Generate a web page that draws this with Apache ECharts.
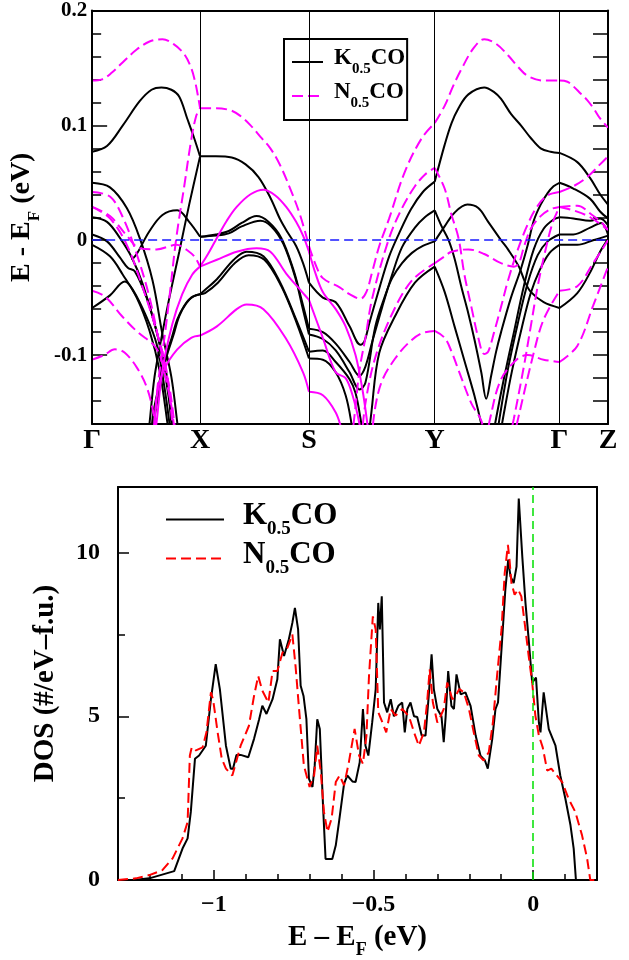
<!DOCTYPE html>
<html><head><meta charset="utf-8">
<script src="https://cdn.jsdelivr.net/npm/echarts@6/dist/echarts.min.js"></script>
<style>html,body{margin:0;padding:0;background:#fff}#c{width:629px;height:960px}</style>
</head><body><div id="c"></div>
<script>
// ---- high-symmetry path (band structure) ----
const symPos = [0, 109, 219, 346, 472, 521];
const symLabels = ['Γ', 'X', 'S', 'Y', 'Γ', 'Z'];
const bandTicks = [-0.1, 0, 0.1, 0.2];

// K0.5CO bands (black, solid)  [k, E-EF]
const bandsK = [
 [[0,0.077],[15,0.082],[31,0.100],[48,0.121],[60,0.131],[70,0.133],[80,0.131],[88,0.125],[96,0.106],[103,0.089],[109,0.073]],
 [[0,0.050],[18,0.046],[35,0.028],[48,0.002],[61,-0.035],[71,-0.082],[80,-0.119],[86,-0.159],[88,-0.175]],
 [[0,0.020],[15,0.016],[28,0.002],[40,-0.015],[51,-0.038],[65,-0.079],[73,-0.113],[81,-0.159],[83,-0.175]],
 [[0,0.005],[15,-0.001],[28,-0.015],[36,-0.024],[43,-0.027],[55,-0.050],[65,-0.079],[75,-0.116],[80,-0.159],[82,-0.175]],
 [[0,-0.004],[18,-0.014],[31,-0.030],[45,-0.050],[58,-0.079],[68,-0.113],[76,-0.159],[78,-0.175]],
 [[0,-0.059],[18,-0.048],[33,-0.036],[41,-0.043],[55,-0.067],[65,-0.090],[73,-0.128],[78,-0.159],[80,-0.175]],
 [[40,-0.017],[45,-0.012],[58,0.008],[71,0.022],[86,0.026],[98,0.016],[109,0.003]],
 [[56,-0.175],[58,-0.159],[63,-0.119],[70,-0.085],[78,-0.050],[88,-0.010],[98,0.031],[109,0.073]],
 [[60,-0.175],[61,-0.155],[66,-0.132],[73,-0.104],[80,-0.086],[86,-0.069],[93,-0.057],[100,-0.050],[109,-0.047]],
 [[62,-0.175],[63,-0.155],[68,-0.130],[75,-0.102],[82,-0.083],[88,-0.066],[95,-0.055],[102,-0.049],[109,-0.047]],
 [[109,0.073],[125,0.073],[141,0.072],[155,0.066],[168,0.055],[180,0.037],[190,0.018],[198,0.006],[206,-0.005],[213,-0.020],[219,-0.037]],
 [[109,0.003],[125,0.005],[138,0.008],[151,0.015],[166,0.021],[178,0.016],[191,0.002],[203,-0.025],[211,-0.050],[219,-0.077]],
 [[109,0.003],[125,0.004],[138,0.006],[151,0.012],[170,0.017],[181,0.012],[193,-0.003],[205,-0.032],[212,-0.057],[219,-0.082]],
 [[109,-0.047],[113,-0.044],[126,-0.034],[143,-0.017],[156,-0.010],[173,-0.014],[190,-0.037],[206,-0.069],[219,-0.097]],
 [[109,-0.047],[114,-0.046],[127,-0.037],[144,-0.020],[158,-0.013],[174,-0.017],[191,-0.040],[207,-0.073],[219,-0.103]],
 [[219,-0.037],[233,-0.050],[246,-0.054],[260,-0.075],[271,-0.091],[275,-0.088],[280,-0.072],[290,-0.042],[300,-0.014],[310,0.006],[322,0.027],[334,0.042],[346,0.051]],
 [[219,-0.077],[233,-0.080],[246,-0.090],[260,-0.106],[270,-0.118],[276,-0.110],[283,-0.088],[293,-0.058],[303,-0.030],[313,-0.006],[326,0.011],[336,0.020],[346,0.026]],
 [[219,-0.082],[233,-0.086],[246,-0.096],[260,-0.115],[270,-0.130],[276,-0.124],[286,-0.075],[296,-0.048],[303,-0.033],[313,-0.020],[323,-0.011],[334,-0.005],[346,-0.001]],
 [[219,-0.097],[233,-0.096],[246,-0.106],[260,-0.121],[266,-0.133],[271,-0.155],[274,-0.175]],
 [[219,-0.103],[233,-0.104],[246,-0.115],[256,-0.135],[262,-0.160],[264,-0.175]],
 [[279,-0.175],[282,-0.150],[290,-0.098],[306,-0.066],[326,-0.037],[346,-0.023]],
 [[346,0.051],[356,0.083],[363,0.102],[370,0.115],[380,0.127],[396,0.133],[406,0.129],[413,0.123],[423,0.110],[433,0.100],[443,0.089],[453,0.080],[463,0.077],[472,0.076]],
 [[346,-0.001],[356,0.012],[366,0.024],[379,0.031],[390,0.028],[400,0.016],[413,0.000],[420,-0.008],[431,-0.023],[437,-0.036],[443,-0.045],[456,-0.054],[472,-0.059]],
 [[346,0.026],[353,0.012],[360,0.000],[366,-0.016],[373,-0.041],[380,-0.064],[386,-0.086],[393,-0.115],[398,-0.138],[403,-0.118],[408,-0.097],[413,-0.080],[423,-0.050],[433,-0.025],[440,-0.004],[446,0.017],[453,0.031],[460,0.041],[466,0.047],[472,0.050]],
 [[346,-0.023],[356,-0.045],[366,-0.075],[376,-0.105],[386,-0.135],[393,-0.160],[396,-0.175]],
 [[404,-0.175],[408,-0.155],[416,-0.120],[426,-0.080],[436,-0.040],[446,-0.008],[456,0.010],[466,0.018],[472,0.020]],
 [[408,-0.175],[412,-0.152],[420,-0.112],[430,-0.072],[440,-0.037],[450,-0.013],[460,-0.001],[472,0.005]],
 [[411,-0.175],[416,-0.150],[424,-0.114],[434,-0.076],[443,-0.046],[452,-0.026],[462,-0.011],[472,-0.004]],
 [[472,0.076],[490,0.068],[503,0.054],[513,0.040],[521,0.031]],
 [[472,0.050],[486,0.045],[503,0.036],[513,0.025],[521,0.019]],
 [[472,0.020],[486,0.019],[503,0.017],[513,0.019],[521,0.013]],
 [[472,0.005],[486,0.005],[503,0.011],[514,0.015],[521,0.005]],
 [[472,-0.004],[490,-0.004],[506,0.000],[521,0.004]],
 [[472,-0.059],[490,-0.046],[503,-0.028],[513,-0.010],[521,0.001]]
];

// N0.5CO bands (magenta, dashed)
const bandsN = [
 [[0,0.139],[10,0.140],[20,0.146],[31,0.155],[45,0.166],[58,0.173],[71,0.175],[82,0.171],[93,0.162],[100,0.150],[104,0.138],[107,0.125],[109,0.115]],
 [[61,-0.175],[63,-0.159],[66,-0.128],[73,-0.085],[78,-0.050],[85,0.002],[93,0.047],[100,0.087],[105,0.108],[109,0.115]],
 [[0,0.042],[18,0.038],[31,0.020],[45,-0.012],[58,-0.050],[68,-0.090],[78,-0.128],[83,-0.159],[85,-0.175]],
 [[0,0.029],[18,0.021],[35,0.004],[48,-0.007],[65,-0.008],[85,-0.004],[98,-0.010],[104,-0.015],[109,-0.023]],
 [[0,0.029],[18,0.019],[35,-0.004],[51,-0.041],[65,-0.079],[75,-0.113],[81,-0.159],[83,-0.175]],
 [[0,-0.044],[13,-0.049],[30,-0.066],[46,-0.080],[63,-0.092],[70,-0.104],[73,-0.115],[80,-0.144],[83,-0.165],[84,-0.175]],
 [[0,-0.104],[12,-0.100],[23,-0.095],[33,-0.098],[46,-0.112],[56,-0.130],[63,-0.156],[65,-0.175]],
 [[109,0.115],[125,0.115],[140,0.113],[150,0.108],[160,0.100],[170,0.090],[180,0.080],[190,0.065],[200,0.045],[210,0.022],[219,-0.005]],
 [[219,-0.005],[226,-0.022],[233,-0.033],[250,-0.041],[260,-0.047],[271,-0.051],[277,-0.045],[283,-0.027],[290,-0.005],[300,0.019],[316,0.060],[333,0.089],[346,0.102]],
 [[262,-0.175],[266,-0.145],[270,-0.113],[276,-0.085],[283,-0.050],[300,0.002],[313,0.028],[326,0.047],[336,0.057],[346,0.063]],
 [[272,-0.175],[276,-0.142],[286,-0.102],[303,-0.064],[323,-0.035],[346,-0.020]],
 [[282,-0.175],[286,-0.145],[293,-0.122],[306,-0.103],[320,-0.089],[333,-0.081],[346,-0.079]],
 [[346,0.102],[356,0.117],[365,0.135],[373,0.149],[385,0.167],[396,0.175],[408,0.171],[420,0.161],[430,0.151],[440,0.143],[456,0.139],[472,0.139]],
 [[346,0.063],[356,0.045],[363,0.022],[370,0.002],[376,-0.030],[383,-0.058],[390,-0.085],[396,-0.099],[400,-0.097],[406,-0.080],[413,-0.058],[420,-0.035],[430,-0.008],[440,0.014],[450,0.030],[460,0.039],[472,0.042]],
 [[346,-0.020],[356,-0.014],[363,-0.010],[380,-0.008],[396,-0.012],[413,-0.020],[426,-0.023],[431,-0.020],[436,-0.006],[443,0.010],[453,0.021],[463,0.027],[472,0.029]],
 [[346,-0.079],[356,-0.085],[363,-0.097],[370,-0.113],[383,-0.142],[393,-0.157],[397,-0.175]],
 [[398,-0.175],[402,-0.155],[413,-0.121],[430,-0.103],[440,-0.100],[456,-0.104],[472,-0.106]],
 [[425,-0.175],[430,-0.156],[446,-0.098],[456,-0.069],[472,-0.044]],
 [[421,-0.175],[426,-0.155],[436,-0.110],[443,-0.075],[450,-0.040],[458,-0.008],[465,0.015],[472,0.029]],
 [[472,0.139],[480,0.138],[486,0.134],[493,0.128],[500,0.122],[507,0.114],[513,0.106],[521,0.098]],
 [[472,0.042],[486,0.047],[500,0.055],[513,0.066],[521,0.073]],
 [[472,0.029],[486,0.026],[503,0.020],[521,0.009]],
 [[472,0.029],[490,0.030],[505,0.022],[515,0.015],[521,0.009]],
 [[472,-0.044],[490,-0.040],[506,-0.020],[521,0.000]],
 [[472,-0.106],[490,-0.092],[506,-0.057],[521,-0.023]]
];

// N0.5CO bands drawn solid (magenta)
const bandsNsolid = [
 [[62,-0.175],[65,-0.159],[71,-0.113],[81,-0.073],[91,-0.047],[101,-0.030],[109,-0.023]],
 [[62,-0.175],[66,-0.132],[73,-0.112],[86,-0.095],[100,-0.085],[109,-0.083]],
 [[109,-0.023],[117,-0.012],[126,0.002],[136,0.017],[146,0.029],[160,0.040],[173,0.044],[185,0.039],[196,0.029],[206,0.016],[213,0.004],[219,-0.010]],
 [[109,-0.023],[126,-0.017],[146,-0.010],[166,-0.007],[180,-0.010],[196,-0.029],[213,-0.046],[219,-0.052]],
 [[109,-0.083],[126,-0.075],[146,-0.060],[156,-0.056],[173,-0.060],[196,-0.086],[213,-0.115],[219,-0.132]],
 [[219,-0.010],[226,-0.030],[233,-0.045],[246,-0.060],[256,-0.075],[266,-0.100],[273,-0.130],[278,-0.160],[280,-0.175]],
 [[219,-0.052],[233,-0.085],[246,-0.115],[256,-0.120],[263,-0.135],[270,-0.160],[272,-0.175]],
 [[219,-0.132],[233,-0.135],[246,-0.150],[252,-0.165],[254,-0.175]]
];

// ---- DOS ----
const dosTicks = [-1, -0.5, 0];
const dosYTicks = [0, 5, 10];
const dosK = [[-1.30,0],[-1.25,0],[-1.202,0.05],[-1.124,0.27],[-1.098,0.96],[-1.082,1.27],[-1.072,2.08],[-1.059,3.70],[-1.046,3.80],[-1.025,4.10],[-1.009,5.52],[-0.994,6.59],[-0.981,5.83],[-0.962,4.10],[-0.947,3.40],[-0.940,3.40],[-0.929,3.82],[-0.916,3.82],[-0.892,3.75],[-0.874,4.31],[-0.858,4.91],[-0.848,5.32],[-0.835,5.07],[-0.816,5.52],[-0.801,6.13],[-0.793,7.35],[-0.780,6.84],[-0.765,7.35],[-0.754,7.85],[-0.746,8.31],[-0.736,7.65],[-0.728,5.93],[-0.719,5.62],[-0.710,4.91],[-0.702,3.09],[-0.691,2.84],[-0.684,3.50],[-0.676,4.91],[-0.668,4.61],[-0.658,2.28],[-0.650,0.64],[-0.629,0.64],[-0.618,1.06],[-0.608,1.77],[-0.592,2.94],[-0.582,3.19],[-0.566,3.01],[-0.556,2.99],[-0.543,3.60],[-0.533,5.22],[-0.525,4.10],[-0.516,3.80],[-0.504,4.81],[-0.493,5.83],[-0.485,8.46],[-0.480,7.65],[-0.474,8.66],[-0.467,5.42],[-0.457,5.12],[-0.446,5.52],[-0.436,5.00],[-0.422,5.32],[-0.410,5.42],[-0.402,4.51],[-0.394,5.22],[-0.384,5.42],[-0.373,5.00],[-0.363,4.98],[-0.349,4.41],[-0.337,4.41],[-0.327,5.62],[-0.318,6.89],[-0.311,5.83],[-0.300,5.22],[-0.287,5.00],[-0.280,4.21],[-0.274,4.98],[-0.266,6.38],[-0.256,5.32],[-0.248,5.22],[-0.240,6.28],[-0.227,5.67],[-0.212,5.73],[-0.196,5.32],[-0.180,4.41],[-0.165,3.80],[-0.151,3.65],[-0.142,3.40],[-0.128,4.31],[-0.118,5.22],[-0.110,5.42],[-0.097,7.35],[-0.087,8.87],[-0.078,9.78],[-0.071,9.27],[-0.061,9.07],[-0.052,9.57],[-0.045,11.65],[-0.034,9.88],[-0.024,8.46],[-0.014,7.35],[-0.003,6.03],[0.009,6.18],[0.018,4.81],[0.023,4.51],[0.033,5.73],[0.049,4.61],[0.070,4.10],[0.085,3.19],[0.101,2.48],[0.117,1.67],[0.127,0.96],[0.134,0],[0.2,0]];
const dosN = [[-1.30,0],[-1.244,0.05],[-1.202,0.15],[-1.161,0.30],[-1.129,0.66],[-1.098,1.27],[-1.082,1.77],[-1.075,3.80],[-1.069,4.05],[-1.056,3.96],[-1.035,4.05],[-1.023,4.51],[-1.009,5.73],[-1.002,5.50],[-0.988,4.51],[-0.975,3.70],[-0.962,3.40],[-0.942,3.19],[-0.916,4.10],[-0.890,4.71],[-0.874,5.62],[-0.861,6.23],[-0.848,5.78],[-0.829,5.42],[-0.816,6.38],[-0.801,6.38],[-0.785,6.94],[-0.769,7.10],[-0.754,7.50],[-0.744,6.53],[-0.733,5.22],[-0.718,3.50],[-0.700,2.84],[-0.686,3.19],[-0.676,4.10],[-0.665,3.30],[-0.655,2.08],[-0.644,1.47],[-0.631,1.88],[-0.618,2.99],[-0.606,3.19],[-0.592,2.89],[-0.577,3.60],[-0.559,4.61],[-0.545,3.80],[-0.533,3.55],[-0.522,4.40],[-0.514,6.23],[-0.502,8.05],[-0.493,7.65],[-0.485,5.12],[-0.472,4.81],[-0.460,4.51],[-0.446,5.22],[-0.431,5.02],[-0.410,5.22],[-0.389,5.00],[-0.373,4.51],[-0.358,4.10],[-0.342,4.51],[-0.332,5.42],[-0.324,6.43],[-0.314,5.42],[-0.300,4.81],[-0.290,5.00],[-0.280,5.22],[-0.269,6.03],[-0.253,5.52],[-0.243,5.62],[-0.231,5.83],[-0.217,5.73],[-0.201,5.22],[-0.186,4.51],[-0.170,3.80],[-0.155,3.65],[-0.139,3.90],[-0.126,4.81],[-0.113,6.23],[-0.099,7.65],[-0.089,9.37],[-0.079,10.23],[-0.074,9.78],[-0.068,9.07],[-0.058,8.71],[-0.047,8.87],[-0.037,8.66],[-0.024,7.65],[-0.014,6.84],[-0.003,6.03],[0.007,5.02],[0.018,4.41],[0.030,4.05],[0.044,3.34],[0.057,3.40],[0.070,3.24],[0.091,2.99],[0.111,2.48],[0.132,2.08],[0.153,1.37],[0.169,0.66],[0.179,0],[0.2,0]];

const FF = "'Liberation Serif','Times New Roman',serif";
const legendNames = {Kband:'{f|K}{s|0.5}{m|CO}', Nband:'{f|N}{s|0.5}{m|CO}', Kdos:'{f|K}{s|0.5}{m|CO}', Ndos:'{f|N}{s|0.5}{m|CO}'};

// subscript: main tokens get bottom padding (taller line), sub token is bottom-aligned
function richSet(main, sub, padB, padL) {
  return {
    f: {fontFamily: FF, fontWeight: 'bold', fontSize: main, verticalAlign: 'top', padding: [0, 0, padB, padL], color: '#000'},
    m: {fontFamily: FF, fontWeight: 'bold', fontSize: main, verticalAlign: 'top', padding: [0, 0, padB, 0], color: '#000'},
    s: {fontFamily: FF, fontWeight: 'bold', fontSize: sub, verticalAlign: 'bottom', color: '#000'}
  };
}

const series = [];
bandsK.forEach((b, i) => series.push({
  type: 'line', name: 'Kband', xAxisIndex: 0, yAxisIndex: 0, data: b, symbol: 'none', smooth: 0.35,
  lineStyle: {color: '#000', width: 2}, itemStyle: {color: '#000'}, silent: true, z: 3,
  markLine: i === 0 ? {
    silent: true, symbol: ['none', 'none'], animation: false,
    label: {position: 'start', distance: 3, fontFamily: FF, fontWeight: 'bold', fontSize: 28, color: '#000'},
    data: symPos.map((p, j) => ({xAxis: p, label: {formatter: symLabels[j]}, lineStyle: {color: '#000', width: 1, type: 'solid'}}))
      .concat([{yAxis: 0, label: {show: false}, lineStyle: {color: '#1a1aff', width: 1.5, type: [9, 5]}}])
  } : undefined
}));
bandsN.forEach(b => series.push({
  type: 'line', name: 'Nband', xAxisIndex: 0, yAxisIndex: 0, data: b, symbol: 'none', smooth: 0.35,
  lineStyle: {color: '#ff00ff', width: 2, type: [11, 5]}, itemStyle: {color: '#ff00ff'}, silent: true, z: 4
}));
bandsNsolid.forEach(b => series.push({
  type: 'line', name: 'Nsolid', xAxisIndex: 0, yAxisIndex: 0, data: b, symbol: 'none', smooth: 0.35,
  lineStyle: {color: '#ff00ff', width: 2}, itemStyle: {color: '#ff00ff'}, silent: true, z: 4
}));
series.push({
  type: 'line', name: 'Kdos', xAxisIndex: 2, yAxisIndex: 3, data: dosK, symbol: 'none',
  lineStyle: {color: '#000', width: 2}, itemStyle: {color: '#000'}, silent: true, z: 3,
  markLine: {silent: true, symbol: ['none', 'none'], animation: false, label: {show: false},
    data: [{xAxis: 0, lineStyle: {color: '#00e000', width: 1.5, type: [8, 5]}}]}
});
series.push({
  type: 'line', name: 'Ndos', xAxisIndex: 2, yAxisIndex: 3, data: dosN, symbol: 'none',
  lineStyle: {color: '#ff0000', width: 2, type: [10, 5]}, itemStyle: {color: '#ff0000'}, silent: true, z: 4
});

const axLine = {show: true, onZero: false, lineStyle: {color: '#000', width: 2}};
const noLine = {show: false, onZero: false};
const tickStyle = {color: '#000', width: 1.5};

const option = {
  animation: false,
  backgroundColor: '#fff',
  grid: [
    {left: 87, top: 10, width: 521, height: 414},
    {left: 118, top: 487, width: 479, height: 395}
  ],
  xAxis: [
    {gridIndex: 0, type: 'value', min: 0, max: 521, position: 'bottom', axisLine: axLine, axisTick: {show: false}, axisLabel: {show: false}, splitLine: {show: false}},
    {gridIndex: 0, type: 'value', min: 0, max: 521, position: 'top', axisLine: axLine, axisTick: {show: false}, axisLabel: {show: false}, splitLine: {show: false}},
    {gridIndex: 1, type: 'value', min: -1.3, max: 0.2, interval: 0.1, position: 'bottom', axisLine: axLine,
      axisTick: {inside: true, length: 6, lineStyle: tickStyle}, axisLabel: {show: false}, splitLine: {show: false}},
    {gridIndex: 1, type: 'value', min: -1.3, max: 0.2, position: 'bottom', axisLine: noLine,
      axisTick: {inside: true, length: 10, customValues: dosTicks, lineStyle: tickStyle},
      axisLabel: {customValues: dosTicks, margin: 13, fontFamily: FF, fontWeight: 'bold', fontSize: 24, color: '#000',
        formatter: v => (Math.abs(v) < 1e-9 ? '0' : (v < 0 ? '\u2212' + Math.abs(v) : String(v)))},
      splitLine: {show: false},
      name: '{m|E \u2013 E}{s|F}{m| (eV)}', nameLocation: 'middle', nameGap: 43,
      nameTextStyle: {rich: richSet(29, 18, 7, 0)}},
    {gridIndex: 1, type: 'value', min: -1.3, max: 0.2, position: 'top', axisLine: axLine, axisTick: {show: false}, axisLabel: {show: false}, splitLine: {show: false}}
  ],
  yAxis: [
    {gridIndex: 0, type: 'value', min: -0.16, max: 0.2, interval: 0.02, position: 'left', axisLine: axLine,
      axisTick: {inside: true, length: 9, lineStyle: tickStyle}, axisLabel: {show: false}, splitLine: {show: false}},
    {gridIndex: 0, type: 'value', min: -0.16, max: 0.2, position: 'left', axisLine: noLine,
      axisTick: {inside: true, length: 15, customValues: bandTicks, lineStyle: tickStyle},
      axisLabel: {customValues: bandTicks, margin: 5, fontFamily: FF, fontWeight: 'bold', fontSize: 21, color: '#000',
        formatter: v => (Math.abs(v) < 1e-9 ? '0' : (v < 0 ? '-' + Math.abs(v).toFixed(1) : v.toFixed(1)))},
      splitLine: {show: false},
      name: '{m|E - E}{s|F}{m| (eV)}', nameLocation: 'middle', nameGap: 33, nameRotate: 90,
      nameTextStyle: {rich: richSet(28, 17, 7, 0)}},
    {gridIndex: 0, type: 'value', min: -0.16, max: 0.2, interval: 0.02, position: 'right', axisLine: axLine,
      axisTick: {inside: true, length: 15, lineStyle: tickStyle}, axisLabel: {show: false}, splitLine: {show: false}},
    {gridIndex: 1, type: 'value', min: 0, max: 12, interval: 2.5, position: 'left', axisLine: axLine,
      axisTick: {inside: true, length: 7, lineStyle: tickStyle}, axisLabel: {show: false}, splitLine: {show: false}},
    {gridIndex: 1, type: 'value', min: 0, max: 12, position: 'left', axisLine: noLine,
      axisTick: {inside: true, length: 11, customValues: dosYTicks, lineStyle: tickStyle},
      axisLabel: {customValues: dosYTicks, margin: 18, fontFamily: FF, fontWeight: 'bold', fontSize: 24, color: '#000'},
      splitLine: {show: false},
      name: 'DOS (#/eV\u2013f.u.)', nameLocation: 'middle', nameGap: 58, nameRotate: 90,
      nameTextStyle: {fontFamily: FF, fontWeight: 'bold', fontSize: 29, color: '#000'}},
    {gridIndex: 1, type: 'value', min: 0, max: 12, position: 'right', axisLine: axLine, axisTick: {show: false}, axisLabel: {show: false}, splitLine: {show: false}}
  ],
  legend: [
    {data: ['Kband', 'Nband'], orient: 'vertical', left: 284, top: 39, selectedMode: false,
      backgroundColor: '#fff', borderColor: '#000', borderWidth: 2, borderRadius: 0,
      padding: [8, 2, 9, 7], itemGap: 4, itemWidth: 31, itemHeight: 14,
      itemStyle: {opacity: 0}, lineStyle: {width: 2},
      formatter: n => legendNames[n], textStyle: {rich: richSet(23, 15, 7, 6)}},
    {data: ['Kdos', 'Ndos'], orient: 'vertical', left: 165, top: 500, selectedMode: false,
      padding: 0, itemGap: 0, itemWidth: 58, itemHeight: 14,
      itemStyle: {opacity: 0}, lineStyle: {width: 2},
      formatter: n => legendNames[n], textStyle: {rich: richSet(31, 19, 8, 14)}}
  ],
  series: series
};

const chart = echarts.init(document.getElementById('c'), null, {renderer: 'canvas'});
chart.setOption(option);
</script>
</body></html>
